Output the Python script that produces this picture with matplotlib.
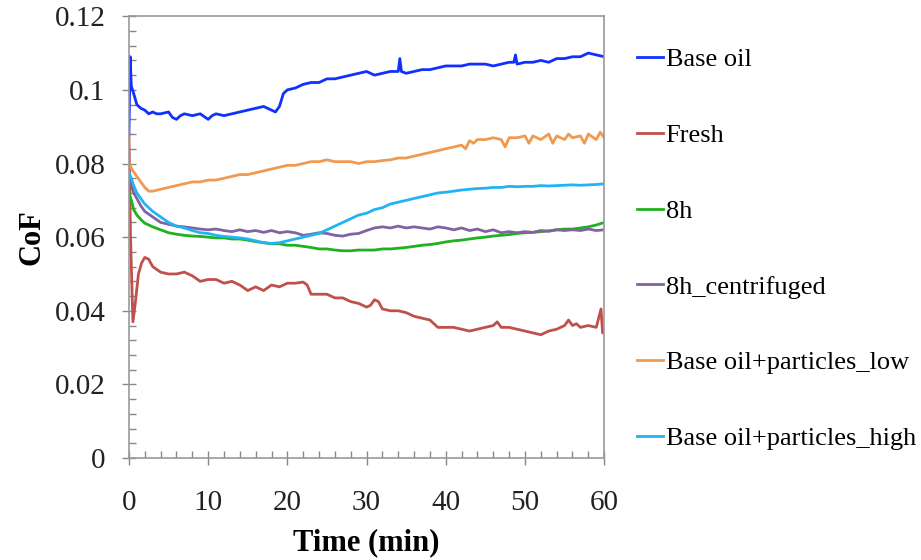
import numpy as np
import matplotlib.pyplot as plt
from matplotlib.ticker import MultipleLocator, FuncFormatter

# Данные (время в минутах, CoF)
t_grid = [0, 0.3, 0.6, 1, 1.5, 2] + list(range(3, 61))

t_base = [0, 0.15, 0.3, 0.6, 1, 1.5, 2, 2.5, 3, 3.5, 4, 5, 5.5, 6, 6.5, 7, 8, 9, 10, 10.5,
          11, 12, 13, 14, 15, 16, 17, 17.5, 18, 18.5, 19, 19.5, 20, 21, 22, 23, 24, 25, 26, 27,
          28, 29, 30, 31, 32, 33, 34, 34.2, 34.4, 35, 36, 37, 38, 39, 40, 41, 42, 43, 44, 45,
          46, 47, 48, 48.6, 48.8, 49, 50, 51, 52, 53, 54, 55, 56, 57, 58, 59, 60]
cof_base = [0.088, 0.109, 0.101, 0.099, 0.096, 0.095, 0.0945, 0.0935, 0.094, 0.0935,
            0.0935, 0.094, 0.0925, 0.092, 0.093, 0.0935, 0.093, 0.0935, 0.092, 0.093,
            0.0935, 0.093, 0.0935, 0.094, 0.0945, 0.095, 0.0955, 0.095, 0.0945, 0.094,
            0.0955, 0.099, 0.1, 0.1005, 0.1015, 0.102, 0.102, 0.103, 0.103, 0.1035,
            0.104, 0.1045, 0.105, 0.104, 0.1045, 0.105, 0.105, 0.1085, 0.105, 0.1045,
            0.105, 0.1055, 0.1055, 0.106, 0.1065, 0.1065, 0.1065, 0.107, 0.107, 0.107,
            0.1065, 0.107, 0.1075, 0.1075, 0.1095, 0.107, 0.1075, 0.1075, 0.108, 0.1075,
            0.1085, 0.1085, 0.109, 0.109, 0.11, 0.1095, 0.109]

t_fresh = [0, 0.2, 0.5, 0.8, 1.2, 1.6, 2, 2.5, 3] + list(range(4, 23)) + [22.5] + \
          list(range(23, 31)) + [30.5, 31, 31.5] + list(range(32, 47)) + [46.5] + \
          list(range(47, 56)) + [55.5, 56, 56.5, 57, 58, 59, 59.6, 59.8, 60]
cof_fresh = [0.088, 0.06, 0.037, 0.042, 0.05, 0.053, 0.0545, 0.054, 0.052,
             0.0505, 0.05, 0.05, 0.0505, 0.0495, 0.048, 0.0485, 0.0485, 0.0475, 0.048,
             0.047, 0.0455, 0.0465, 0.0455, 0.047, 0.0465, 0.0475, 0.0475, 0.0478,
             0.047,
             0.0445, 0.0445, 0.0445, 0.0435, 0.0435, 0.0425, 0.042, 0.041,
             0.0415, 0.043, 0.0425,
             0.0405, 0.040, 0.040, 0.0395, 0.0385, 0.038, 0.0375, 0.0355, 0.0355, 0.0355,
             0.035, 0.0345, 0.035, 0.0355, 0.036,
             0.037,
             0.0355, 0.0355, 0.035, 0.0345, 0.034, 0.0335, 0.0345, 0.035, 0.036,
             0.0375, 0.036, 0.0365, 0.0355, 0.036, 0.0355, 0.0405, 0.034, 0.034]

cof_8h = [0.072, 0.07, 0.0675, 0.066, 0.0648, 0.0638,
          0.0628, 0.062, 0.0612, 0.0608, 0.0605, 0.0603, 0.0602, 0.06, 0.0598, 0.0598,
          0.0595, 0.0595, 0.0592, 0.0588, 0.0585, 0.0582, 0.0582, 0.0578, 0.0578, 0.0575,
          0.0572, 0.0568, 0.0568, 0.0565, 0.0563, 0.0563, 0.0565, 0.0565, 0.0565, 0.0568,
          0.0568, 0.057, 0.0572, 0.0575, 0.0578, 0.058, 0.0583, 0.0587, 0.059, 0.0592,
          0.0595, 0.0598, 0.06, 0.0603, 0.0605, 0.0607, 0.061, 0.0612, 0.0613, 0.0615,
          0.0617, 0.062, 0.0622, 0.0622, 0.0625, 0.0628, 0.0633, 0.064]

cof_8h_c = [0.077, 0.074, 0.072, 0.0705, 0.0685, 0.067,
            0.0655, 0.064, 0.0635, 0.063, 0.0628, 0.0625, 0.0622, 0.062, 0.0622, 0.0618,
            0.0615, 0.062, 0.0615, 0.0618, 0.0613, 0.0618, 0.0612, 0.0615, 0.0612, 0.0605,
            0.0608, 0.0612, 0.061, 0.0605, 0.0603, 0.0608, 0.061, 0.0618, 0.0625, 0.0628,
            0.0625, 0.063, 0.0625, 0.0628, 0.0625, 0.0622, 0.0628, 0.0625, 0.062, 0.0625,
            0.0618, 0.0622, 0.0615, 0.062, 0.0612, 0.0615, 0.0612, 0.0615, 0.0613, 0.0618,
            0.0616, 0.062, 0.0618, 0.062, 0.0618, 0.0622, 0.0618, 0.062]

t_low = [0, 0.5, 1, 1.5, 2, 2.5, 3] + list(range(4, 42)) + \
        [42, 42.5, 43, 43.5, 44, 45, 46, 47, 47.5, 48, 49, 50, 50.5, 51, 52, 53, 53.5,
         54, 55, 55.5, 56, 57, 57.5, 58, 59, 59.5, 60]
cof_low = [0.08, 0.078, 0.0765, 0.075, 0.0735, 0.0725, 0.0725,
           0.073, 0.0735, 0.074, 0.0745, 0.075, 0.075, 0.0755, 0.0755, 0.076, 0.0765,
           0.077, 0.077, 0.0775, 0.078, 0.0785, 0.079, 0.0795, 0.0795, 0.080, 0.0805,
           0.0805, 0.081, 0.0805, 0.0805, 0.0805, 0.080, 0.0805, 0.0805, 0.0808, 0.081,
           0.0815, 0.0815, 0.082, 0.0825, 0.083, 0.0835, 0.084, 0.0845,
           0.085, 0.084, 0.0862, 0.0855, 0.0865, 0.0865, 0.087, 0.0865, 0.0845, 0.087,
           0.087, 0.0875, 0.0855, 0.0875, 0.0865, 0.088, 0.0855, 0.0875, 0.0865, 0.088,
           0.087, 0.0875, 0.0855, 0.088, 0.0865, 0.0885, 0.087]

cof_high = [0.0775, 0.076, 0.074, 0.072, 0.0705, 0.069,
            0.067, 0.0655, 0.064, 0.063, 0.0625, 0.0618, 0.0612, 0.061, 0.0605, 0.0602,
            0.060, 0.0598, 0.0595, 0.059, 0.0585, 0.0583, 0.0585, 0.059, 0.0595, 0.060,
            0.0605, 0.061, 0.062, 0.063, 0.064, 0.065, 0.066, 0.0665, 0.0675, 0.068,
            0.069, 0.0695, 0.070, 0.0705, 0.071, 0.0715, 0.072, 0.0722, 0.0725, 0.0728,
            0.073, 0.0732, 0.0733, 0.0735, 0.0735, 0.0738, 0.0737, 0.0738, 0.0738, 0.074,
            0.0739, 0.074, 0.0741, 0.0742, 0.0741, 0.0742, 0.0743, 0.0745]

labels = ['Base oil', 'Fresh', '8h', '8h_centrifuged',
          'Base oil+particles_low', 'Base oil+particles_high']
colors = ['#1030ff', '#c0504d', '#20b020', '#8064a2', '#f09a50', '#20b4f5']

plt.rcParams['font.family'] = ['Liberation Serif', 'DejaVu Serif']

fig = plt.figure(figsize=(9.21, 5.6), dpi=100)
ax = fig.add_axes([0.140, 0.182, 0.516, 0.789])

series = [(t_base, cof_base), (t_fresh, cof_fresh), (t_grid, cof_8h),
          (t_grid, cof_8h_c), (t_low, cof_low), (t_grid, cof_high)]
for (t, y), lab, c in zip(series, labels, colors):
    ax.plot(t, y, color=c, linewidth=2.0, label=lab)

ax.set_xlim(0, 60)
ax.set_ylim(0, 0.12)
ax.xaxis.set_major_locator(MultipleLocator(10))
ax.xaxis.set_minor_locator(MultipleLocator(2))
ax.yaxis.set_major_locator(MultipleLocator(0.02))
ax.yaxis.set_minor_locator(MultipleLocator(0.004))
ax.yaxis.set_major_formatter(FuncFormatter(lambda v, p: f'{v:.2f}'.rstrip('0').rstrip('.') if v > 1e-9 else '0'))

ax.tick_params(which='major', direction='inout', length=10, width=1, colors='#888888',
               labelcolor='#222222', labelsize=21)
ax.tick_params(axis='y', which='major', pad=12)
ax.tick_params(axis='x', which='major', pad=18)
ax.tick_params(which='minor', direction='in', length=5, width=1, colors='#888888')
for spine in ax.spines.values():
    spine.set_color('#999999')
    spine.set_linewidth(1.2)

ax.set_xlabel('Time (min)', fontsize=22, fontweight='bold', labelpad=9)
ax.set_ylabel('CoF', fontsize=22, fontweight='bold', labelpad=6)

ax.legend(loc='upper left', bbox_to_anchor=(1.046, 0.952), frameon=False, fontsize=19,
          handlelength=1.0, handletextpad=0.1, labelspacing=1.98, borderaxespad=0)

plt.savefig('out.png', dpi=100)
